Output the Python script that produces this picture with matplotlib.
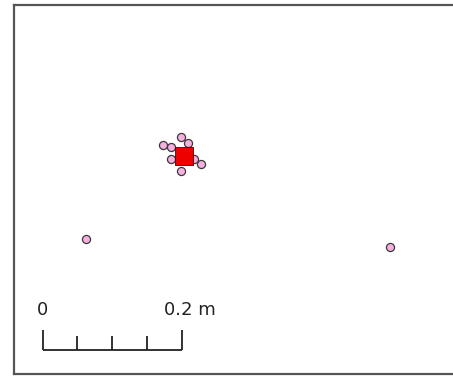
import matplotlib
matplotlib.use("Agg")
import matplotlib.pyplot as plt

# point positions in metres (x east, y north)
px_per_m = 695.0
pink_x = [0.2158, 0.2259, 0.2403, 0.2504, 0.2259, 0.2403, 0.2691, 0.2590, 0.1050, 0.5424]
pink_y = [0.3295, 0.3266, 0.3410, 0.3324, 0.3094, 0.2921, 0.3022, 0.3094, 0.1942, 0.1827]
centre_x = [0.2460]
centre_y = [0.3137]

scale_len = 0.2
scale_ticks = [0, 0.05, 0.1, 0.15, 0.2]

fig = plt.figure(figsize=(4.53, 3.76), dpi=100)
ax = fig.add_axes([13.5 / 453, 2 / 376, 450 / 453, 369 / 376])
ax.set_xlim(0, 450 / px_per_m)
ax.set_ylim(0, 369 / px_per_m)
ax.set_xticks([])
ax.set_yticks([])
for s in ax.spines.values():
    s.set_color("#555555")
    s.set_linewidth(1.6)
ax.spines["right"].set_visible(False)

ax.scatter(pink_x, pink_y, s=34, c="#f6b0e0", edgecolors="#3a3a3a", linewidths=0.9, zorder=3)
ax.scatter(centre_x, centre_y, s=170, marker="s", c="#ee0000", edgecolors="#550000", linewidths=0.6, zorder=4)

# scale bar
x0 = 29 / px_per_m
y0 = 24 / px_per_m
ax.plot([x0, x0 + scale_len], [y0, y0], color="#222222", lw=1.3, solid_capstyle="butt")
for t in scale_ticks:
    h = 20 if t in (0, scale_len) else 14
    ax.plot([x0 + t, x0 + t], [y0, y0 + h / px_per_m], color="#222222", lw=1.3, solid_capstyle="butt")
ax.text(x0, y0 + 31 / px_per_m, "0", ha="center", va="bottom", fontsize=13, color="#222222")
ax.text(x0 + scale_len - 18 / px_per_m, y0 + 31 / px_per_m, "0.2 m", ha="left", va="bottom",
        fontsize=13, color="#222222")

fig.savefig("out.png", dpi=100)
